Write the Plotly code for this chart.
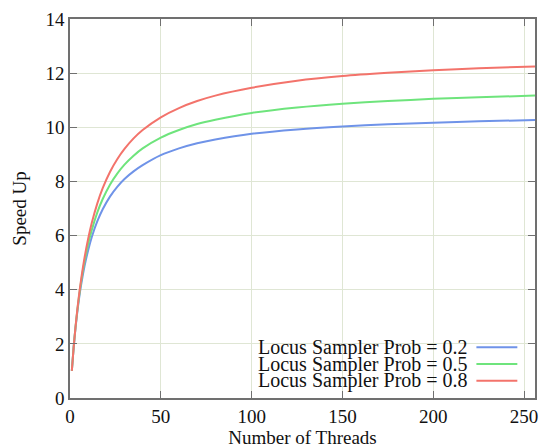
import plotly.graph_objects as go

# Data (number of threads vs. speed up)
threads = [1, 2, 3, 4, 5, 6, 8, 10, 12, 15, 18, 22, 26, 30, 35, 40, 50, 60, 70, 80,
           100, 125, 150, 175, 200, 225, 256]
speedup_02 = [1.00, 1.86, 2.56, 3.16, 3.68, 4.13, 4.87, 5.46, 5.95, 6.52, 6.97, 7.44, 7.80, 8.09,
              8.37, 8.60, 8.97, 9.22, 9.41, 9.55, 9.76, 9.92, 10.03, 10.11, 10.17, 10.22, 10.27]
speedup_05 = [1.00, 1.87, 2.59, 3.22, 3.76, 4.24, 5.04, 5.68, 6.21, 6.85, 7.35, 7.88, 8.29, 8.62,
              8.95, 9.22, 9.62, 9.90, 10.12, 10.28, 10.53, 10.73, 10.87, 10.97, 11.05, 11.11, 11.17]
speedup_08 = [1.00, 1.86, 2.60, 3.25, 3.82, 4.32, 5.18, 5.88, 6.47, 7.18, 7.75, 8.35, 8.82, 9.20,
              9.59, 9.90, 10.37, 10.71, 10.97, 11.17, 11.46, 11.72, 11.89, 12.01, 12.11, 12.18, 12.25]

labels = ["Locus Sampler Prob = 0.2", "Locus Sampler Prob = 0.5", "Locus Sampler Prob = 0.8"]
colors = ["#6f93e8", "#6ee47c", "#f3736b"]

FONT = "Liberation Serif"
fig = go.Figure()
for y, name, c in zip([speedup_02, speedup_05, speedup_08], labels, colors):
    fig.add_trace(go.Scatter(x=threads, y=y, mode="lines", name=name,
                             line=dict(color=c, width=2, shape="spline", smoothing=0.8),
                             showlegend=False))

axis_common = dict(showgrid=True, gridcolor="#dfe6d4", gridwidth=1,
                   showline=True, linecolor="#707070", linewidth=1.5, mirror="ticks",
                   ticks="inside", ticklen=7, tickcolor="#707070", tickwidth=1.2,
                   zeroline=False, tickfont=dict(family=FONT, size=19, color="#111"))

fig.update_xaxes(range=[0, 256], dtick=50, tick0=0,
                 title=dict(text="Number of Threads", font=dict(family=FONT, size=19, color="#111"), standoff=6),
                 **axis_common)
fig.update_yaxes(range=[0, 14], dtick=2, tick0=0,
                 title=dict(text="Speed Up", font=dict(family=FONT, size=19, color="#111"), standoff=14),
                 **axis_common)

# legend box (gnuplot style: text left, sample right)
shapes = [dict(type="rect", xref="paper", yref="paper", x0=0.40, x1=0.975, y0=0.02, y1=0.158,
               fillcolor="white", line=dict(width=0), layer="between")]
annotations = []
row_y = [0.1337, 0.0897, 0.0456]
for name, c, yy in zip(labels, colors, row_y):
    annotations.append(dict(xref="paper", yref="paper", x=0.860, y=yy, text=name, showarrow=False,
                            xanchor="right", yanchor="middle",
                            font=dict(family=FONT, size=20, color="#111")))
    shapes.append(dict(type="line", xref="paper", yref="paper", x0=0.874, x1=0.962, y0=yy, y1=yy,
                       line=dict(color=c, width=2)))

fig.update_layout(width=539, height=448, margin=dict(l=70, r=2, t=19, b=50),
                  paper_bgcolor="white", plot_bgcolor="white",
                  shapes=shapes, annotations=annotations,
                  font=dict(family=FONT))
fig.write_html("out.html")
